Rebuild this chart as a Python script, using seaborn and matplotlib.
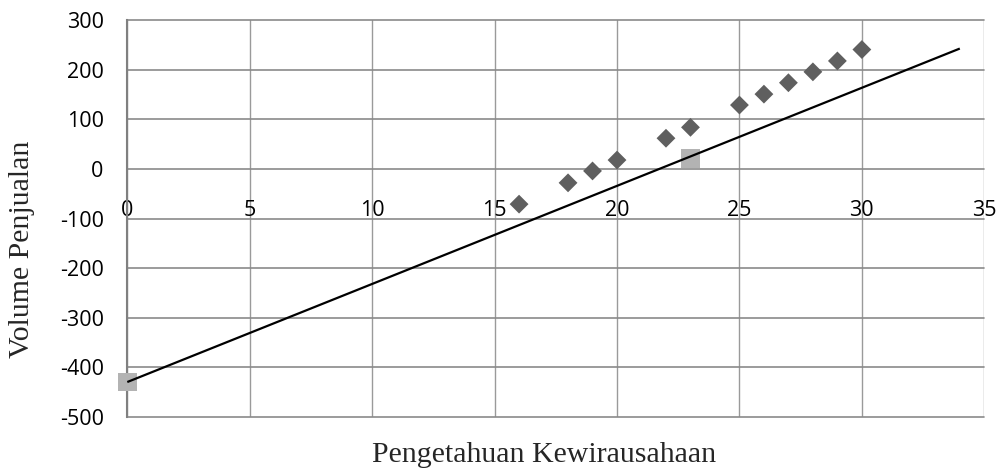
import matplotlib
matplotlib.use("Agg")
import matplotlib.pyplot as plt
import seaborn as sns
import pandas as pd

# Observed sales volume against entrepreneurship knowledge score
knowledge = [16, 18, 19, 20, 22, 23, 25, 26, 27, 28, 29, 30]
sales = [-71, -28, -4, 18, 62, 84, 129, 151, 174, 196, 218, 241]

# Highlighted points
highlight_x = [0, 23]
highlight_y = [-430, 22]

# Fitted line end points
fit_x = [0, 34]
fit_y = [-430, 243]

x_ticks = [0, 5, 10, 15, 20, 25, 30, 35]
y_ticks = [300, 200, 100, 0, -100, -200, -300, -400, -500]

sns.set_theme(style="white")
plt.rcParams["font.family"] = ["Open Sans", "DejaVu Sans"]

fig = plt.figure(figsize=(10, 4.69), dpi=100)
ax = fig.add_axes([0.1273, 0.1115, 0.857, 0.8452])

obs = pd.DataFrame({"x": knowledge, "y": sales})
hi = pd.DataFrame({"x": highlight_x, "y": highlight_y})
fit = pd.DataFrame({"x": fit_x, "y": fit_y})

sns.scatterplot(data=obs, x="x", y="y", marker="D", s=92, color="#5f5f5f",
                edgecolor="none", linewidth=0, ax=ax, zorder=3, clip_on=False)
sns.scatterplot(data=hi, x="x", y="y", marker="s", s=185, color="#b3b3b3",
                edgecolor="none", linewidth=0, ax=ax, zorder=3, clip_on=False)
sns.lineplot(data=fit, x="x", y="y", color="black", linewidth=1.6, ax=ax,
             zorder=4, solid_capstyle="butt")

ax.set_xlim(0, 35)
ax.set_ylim(-500, 300)
ax.set_xticks(x_ticks)
ax.set_yticks(y_ticks)
ax.set_xticklabels([str(v) for v in x_ticks])
ax.set_yticklabels([str(v) for v in y_ticks])

# Grid lines double as the plot frame
ax.grid(True, axis="y", color="#8a8a8a", linewidth=1.2)
ax.grid(True, axis="x", color="#9a9a9a", linewidth=1.0)
for gl in ax.get_xgridlines() + ax.get_ygridlines():
    gl.set_clip_on(False)
ax.set_axisbelow(True)

for side in ["top", "right"]:
    ax.spines[side].set_visible(False)
ax.spines["left"].set_color("#808080")
ax.spines["left"].set_linewidth(1.5)
# Horizontal axis crosses at zero; its labels sit just below that line
ax.spines["bottom"].set_position(("data", 0))
ax.spines["bottom"].set_visible(False)

ax.tick_params(axis="x", length=0, pad=22, labelsize=15.5, colors="black")
ax.tick_params(axis="y", length=0, pad=17, labelsize=15.5, colors="black")

ax.set_xlabel("")
ax.set_ylabel("")
fig.text(0.544, 0.0139, "Pengetahuan Kewirausahaan", family="Liberation Serif",
         fontsize=21.5, ha="center", va="baseline")
fig.text(0.0225, 0.469, "Volume Penjualan", family="Liberation Serif",
         fontsize=21.5, ha="center", va="center", rotation=90)

fig.savefig("out.png", dpi=100, facecolor="white")
